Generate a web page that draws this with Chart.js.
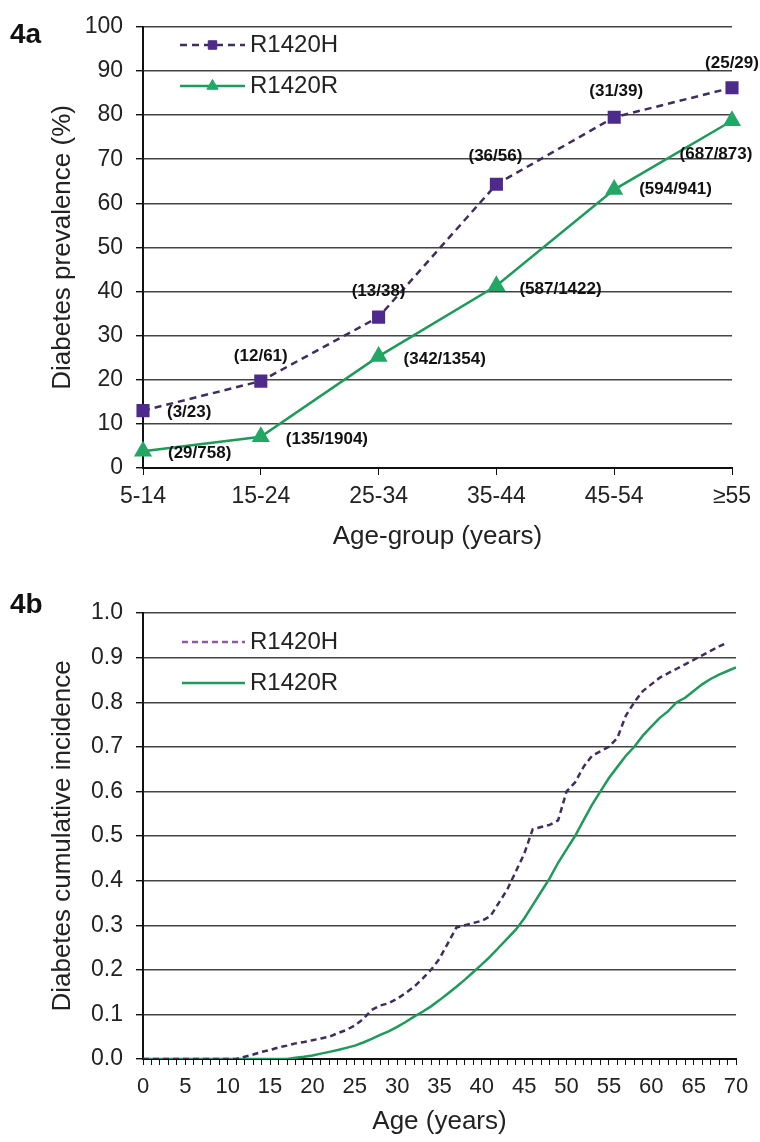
<!DOCTYPE html>
<html>
<head>
<meta charset="utf-8">
<script src="https://cdn.jsdelivr.net/npm/chart.js@4"></script>
<style>
  html, body { margin: 0; padding: 0; background: #fff; }
  #wrapA { position: absolute; left: 0; top: 0; width: 760px; height: 560px; }
  #wrapB { position: absolute; left: 0; top: 560px; width: 760px; height: 582px; }
</style>
</head>
<body>
<div id="wrapA"><canvas id="chartA" width="760" height="560"></canvas></div>
<div id="wrapB"><canvas id="chartB" width="760" height="582"></canvas></div>
<script>
// --- 4a: prevalence by age group ---
const ageGroups = ["5-14", "15-24", "25-34", "35-44", "45-54", "≥55"];
const prevH = [13, 19.7, 34.2, 64.3, 79.5, 86.2];
const prevR = [3.8, 7.1, 25.3, 41.3, 63.1, 78.7];
const countsH = ["(3/23)", "(12/61)", "(13/38)", "(36/56)", "(31/39)", "(25/29)"];
const countsR = ["(29/758)", "(135/1904)", "(342/1354)", "(587/1422)", "(594/941)", "(687/873)"];
const prevTicks = [0, 10, 20, 30, 40, 50, 60, 70, 80, 90, 100];

// --- 4b: cumulative incidence by age ---
const ageH = [0, 5, 10, 11, 12, 13, 14, 15, 16, 17, 18, 19, 20, 21, 22, 23, 24, 25, 26, 27, 28, 29, 30,
  31, 32, 33, 34, 35, 36, 37, 38, 39, 40, 41, 42, 43, 44, 45, 46, 47, 48, 49, 50, 51, 52, 53, 54,
  55, 56, 57, 58, 59, 60, 61, 62, 63, 64, 65, 66, 67, 68, 68.6];
const incH = [0, 0, 0, 0, 0.005, 0.01, 0.016, 0.02, 0.026, 0.03, 0.035, 0.038, 0.042, 0.046, 0.05, 0.058, 0.065, 0.075, 0.09, 0.11, 0.12, 0.125, 0.135,
  0.148, 0.162, 0.18, 0.2, 0.225, 0.26, 0.295, 0.3, 0.305, 0.31, 0.32, 0.35, 0.38, 0.42, 0.46, 0.515, 0.52, 0.525, 0.535, 0.6, 0.62, 0.655, 0.68, 0.69,
  0.7, 0.72, 0.77, 0.8, 0.825, 0.84, 0.855, 0.865, 0.875, 0.885, 0.895, 0.905, 0.915, 0.925, 0.93];
const ageR = [0, 5, 10, 15, 17, 18, 19, 20, 21, 22, 23, 24, 25, 26, 27, 28, 29, 30, 31, 32, 33, 34, 35,
  36, 37, 38, 39, 40, 41, 42, 43, 44, 45, 46, 47, 48, 49, 50, 51, 52, 53, 54, 55, 56, 57, 58, 59,
  60, 61, 62, 63, 64, 65, 66, 67, 68, 69, 70];
const incR = [0, 0, 0, 0, 0, 0.003, 0.005, 0.008, 0.012, 0.016, 0.02, 0.025, 0.03, 0.037, 0.045, 0.054, 0.062, 0.072, 0.083, 0.095, 0.106, 0.118, 0.132,
  0.147, 0.162, 0.178, 0.195, 0.212, 0.23, 0.25, 0.27, 0.29, 0.315, 0.345, 0.375, 0.405, 0.44, 0.47, 0.5, 0.535, 0.57, 0.6, 0.63, 0.655, 0.68, 0.7, 0.725,
  0.745, 0.765, 0.78, 0.8, 0.81, 0.825, 0.84, 0.852, 0.862, 0.87, 0.878];
const incTicks = [0, 0.1, 0.2, 0.3, 0.4, 0.5, 0.6, 0.7, 0.8, 0.9, 1.0];

const colH = "#3f2d5e";
const colHmark = "#4e2a8c";
const colR = "#1e9a5a";
const colRmark = "#22a865";
const FONT = "Arial, 'Liberation Sans', sans-serif";

// where each count label sits relative to its point: [dx, dy, align]
const offsH = [[24, 2, "left"], [0, -25, "center"], [0, -26, "center"], [-1, -28, "center"], [2, -26, "center"], [0, -24, "center"]];
const offsR = [[25, 2, "left"], [25, 3, "left"], [25, 3, "left"], [23, 4, "left"], [25, 0, "left"], [-16, 34, "center"]];

// 점 옆 (n/N) 라벨
const countLabels = {
  id: "countLabels",
  afterDatasetsDraw(chart, args, opts) {
    if (!opts.sets) return;
    const ctx = chart.ctx;
    ctx.save();
    ctx.font = "bold 17px " + FONT;
    ctx.fillStyle = "#111";
    ctx.textBaseline = "middle";
    opts.sets.forEach((s, di) => {
      const meta = chart.getDatasetMeta(di);
      meta.data.forEach((pt, i) => {
        const o = s.offs[i];
        ctx.textAlign = o[2];
        ctx.fillText(s.text[i], pt.x + o[0], pt.y + o[1]);
      });
    });
    ctx.restore();
  }
};

// 차트 안쪽 범례 + 패널 라벨
const innerLegend = {
  id: "innerLegend",
  afterDraw(chart, args, opts) {
    const ctx = chart.ctx;
    ctx.save();
    chart.data.datasets.forEach((ds, i) => {
      const y = opts.y + i * opts.gap;
      ctx.beginPath();
      ctx.strokeStyle = ds.legendColor || ds.borderColor;
      ctx.lineWidth = ds.borderWidth;
      ctx.setLineDash(ds.borderDash || []);
      ctx.moveTo(opts.x, y);
      ctx.lineTo(opts.x + opts.len, y);
      ctx.stroke();
      ctx.setLineDash([]);
      if (ds.pointRadius > 0) {
        ctx.fillStyle = ds.pointBackgroundColor;
        ctx.strokeStyle = ds.pointBorderColor;
        ctx.lineWidth = 1;
        Chart.helpers.drawPoint(ctx, { pointStyle: ds.pointStyle, radius: ds.pointRadius - 1.5, borderWidth: 1 }, opts.x + opts.len / 2, y);
      }
      ctx.fillStyle = "#222";
      ctx.font = "24px " + FONT;
      ctx.textAlign = "left";
      ctx.textBaseline = "middle";
      ctx.fillText(ds.label, opts.x + opts.len + 5, y);
    });
    ctx.font = "bold 28px " + FONT;
    ctx.fillStyle = "#111";
    ctx.textBaseline = "middle";
    ctx.fillText(opts.panel, 10, opts.panelY);
    ctx.restore();
  }
};

function yScale(min, max, ticks, title, fmt) {
  return {
    min: min, max: max,
    afterBuildTicks: s => { s.ticks = ticks.map(v => ({ value: v })); },
    afterFit: s => { s.width = 143; },
    border: { color: "#111", width: 2 },
    grid: { color: "#444", lineWidth: 1.4, tickLength: 7, tickColor: "#111" },
    ticks: { font: { size: 23, family: FONT }, color: "#222", padding: 13, callback: fmt },
    title: { display: true, text: title, font: { size: 26, family: FONT }, color: "#222", padding: { top: 47 } }
  };
}

new Chart(document.getElementById("chartA"), {
  type: "line",
  data: {
    labels: ageGroups,
    datasets: [
      { label: "R1420H", data: prevH, borderColor: colH, borderWidth: 2.5, borderDash: [7, 5],
        pointStyle: "rect", pointRadius: 7.5, pointBackgroundColor: colHmark, pointBorderColor: colHmark, tension: 0 },
      { label: "R1420R", data: prevR, borderColor: colR, borderWidth: 2.5,
        pointStyle: "triangle", pointRadius: 8, pointBackgroundColor: colRmark, pointBorderColor: colRmark, tension: 0 }
    ]
  },
  options: {
    responsive: false, animation: false, devicePixelRatio: 1,
    layout: { padding: { left: 0, right: 28, top: 22, bottom: 0 } },
    plugins: {
      legend: { display: false }, tooltip: { enabled: false },
      innerLegend: { x: 180, y: 45, gap: 41, len: 65, panel: "4a", panelY: 35 },
      countLabels: { sets: [{ text: countsH, offs: offsH }, { text: countsR, offs: offsR }] }
    },
    scales: {
      x: {
        offset: false,
        afterFit: s => { s.height = 92; },
        border: { color: "#111", width: 2 },
        grid: { drawOnChartArea: false, tickLength: 7, color: "#111" },
        ticks: { font: { size: 23, family: FONT }, color: "#222", padding: 8, maxRotation: 0 },
        title: { display: true, text: "Age-group (years)", font: { size: 26, family: FONT }, color: "#222", padding: { bottom: 8 } }
      },
      y: yScale(0, 100, prevTicks, "Diabetes prevalence (%)", v => v)
    }
  },
  plugins: [countLabels, innerLegend]
});

new Chart(document.getElementById("chartB"), {
  type: "line",
  data: {
    datasets: [
      { label: "R1420H", data: ageH.map((a, i) => ({ x: a, y: incH[i] })), borderColor: colH, legendColor: "#8e5aa8",
        borderWidth: 2.5, borderDash: [6, 4], pointRadius: 0, tension: 0 },
      { label: "R1420R", data: ageR.map((a, i) => ({ x: a, y: incR[i] })), borderColor: colR, borderWidth: 2.5,
        pointRadius: 0, tension: 0 }
    ]
  },
  options: {
    responsive: false, animation: false, devicePixelRatio: 1,
    layout: { padding: { left: 0, right: 24, top: 53, bottom: 0 } },
    plugins: {
      legend: { display: false }, tooltip: { enabled: false },
      innerLegend: { x: 182, y: 82, gap: 41, len: 63, panel: "4b", panelY: 45 }
    },
    scales: {
      x: {
        type: "linear", min: 0, max: 70,
        afterFit: s => { s.height = 83; },
        border: { color: "#111", width: 2 },
        grid: { drawOnChartArea: false, tickLength: 6, color: "#111" },
        ticks: { stepSize: 1, autoSkip: false, maxRotation: 0, font: { size: 22, family: FONT }, color: "#222", padding: 9,
          callback: v => (v % 5 === 0 ? v : "") },
        title: { display: true, text: "Age (years)", font: { size: 26, family: FONT }, color: "#222", padding: { bottom: 5 } }
      },
      y: yScale(0, 1, incTicks, "Diabetes cumulative incidence", v => v.toFixed(1))
    }
  },
  plugins: [innerLegend]
});
</script>
</body>
</html>
